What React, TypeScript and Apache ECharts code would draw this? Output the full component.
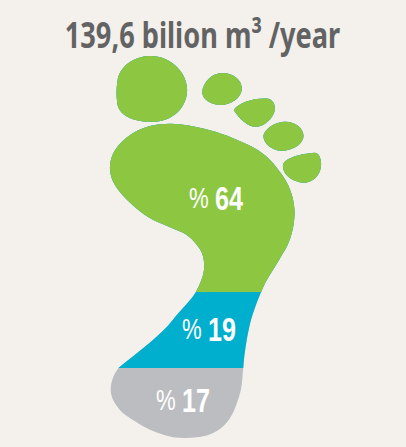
import React, { useEffect, useRef } from "react";
import * as echarts from "echarts";

const titleText = "139,6 bilion m³ /year";
const shares = [64, 19, 17];
const bandNames = ["Green", "Blue", "Grey"];
const bandColors = ["#8dc742", "#00aecd", "#bcbdc1"];
// vertical extent of each band on the foot's height scale, top to bottom
const bandHeights = [236, 76, 70];
const labelPositions = [
  [216, 198],
  [209, 329],
  [183, 400],
];

const footOutline =
  "M151 56C170 56 187 72 187 90C187 108 172 122 152 122C134 122 117 116 117 100C116 92 117 84 118 78C122 64 136 56 151 56Z" +
  "M222 73C234 73 242 81 241.500 89C241 98 231 105 220 105C212 105 202 100 202 92C203 82 212 73 222 73Z" +
  "M233.500 110C238 103 252 98 266 98.500C273 99 275 105 274.500 110C273 118 264 127 255 127C248 127 238 118 233.500 110Z" +
  "M283 122C294 121 303 128 303 136C303 144 293 151 281 151C272 151 263 144 263 136C264 130 273 123 283 122Z" +
  "M282.500 165C285 158 300 154 314 153C319 153 321 160 320.500 166C320 176 312 183 303 183C293 182 282 176 282.500 165Z" +
  "M170 124C200 125 232 136 257 150C270 158 278 170 283 177C291 189 295 204 294 217C293 233 288 245 283 253C277 264 270 274 265 283C258 298 253 312 250 323C246 340 244 355 243 368C242 378 242 385 240 393C236 407 232 419 223 427C215 434 207 437 197 438C189 439 181 439 173 438C162 436 152 432 143 427C132 420 122 415 117 407C112 400 110 394 111 387C112 379 115 373 119 368C128 361 139 352 150 343C158 336 166 329 173 320C181 310 190 302 196 292C200 284 204 276 204 267C204 260 203 255 200 250C195 242 190 237 183 233C174 229 166 226 157 222C146 217 136 209 127 200C118 191 110 181 110 168C110 155 118 143 132 134C143 127 156 124 170 124Z";

// The inverted value axis mirrors the symbol, so hand it a mirrored outline.
const mirrored = footOutline.replace(
  /(-?[\d.]+) (-?[\d.]+)/g,
  (_m, x, y) => `${x} ${494 - Number(y)}`
);
const footPath = "path://" + mirrored;

const TITLE_FONT = "'Noto Sans', sans-serif";
const LABEL_FONT = "'Liberation Sans', sans-serif";

export default function App() {
  const ref = useRef<HTMLDivElement>(null);
  useEffect(() => {
    document.body.style.margin = "0";
    const chart = echarts.init(ref.current!, undefined, { renderer: "svg" });
    const total = bandHeights.reduce((a, b) => a + b, 0);
    let cum = 0;
    const cumulative = bandHeights.map((h) => (cum += h));
    const series = bandNames
      .map((name, i) => ({
        type: "pictorialBar",
        name,
        symbol: footPath,
        symbolSize: [211, "100%"],
        symbolClip: true,
        symbolBoundingData: total,
        symbolPosition: "start",
        itemStyle: { color: bandColors[i] },
        silent: true,
        data: [cumulative[i]],
      }))
      .reverse()
      .map((s, i) => ({ ...s, z: 2 + i }));
    chart.setOption({
      animation: false,
      backgroundColor: "#f4f1ed",
      grid: { left: 110, top: 56, width: 211, height: 382 },
      xAxis: { type: "category", data: ["foot"], show: false },
      yAxis: { type: "value", min: 0, max: total, inverse: true, show: false },
      series,
      graphic: [
        {
          type: "text",
          x: 202.500,
          y: 34,
          scaleX: 0.755,
          z: 20,
          style: {
            text: titleText,
            align: "center",
            verticalAlign: "middle",
            font: `bold 36px ${TITLE_FONT}`,
            fill: "#636363",
          },
        },
        ...shares.map((v, i) => ({
          type: "text",
          x: labelPositions[i][0],
          y: labelPositions[i][1],
          scaleX: 0.74,
          z: 20,
          style: {
            text: `{p|% }{n|${v}}`,
            align: "center",
            verticalAlign: "middle",
            fill: "#ffffff",
            rich: {
              p: { font: `30px ${LABEL_FONT}`, fill: "#ffffff" },
              n: { font: `bold 34px ${LABEL_FONT}`, fill: "#ffffff" },
            },
          },
        })),
      ],
    });
    return () => chart.dispose();
  }, []);
  return <div ref={ref} style={{ width: 406, height: 447 }} />;
}
